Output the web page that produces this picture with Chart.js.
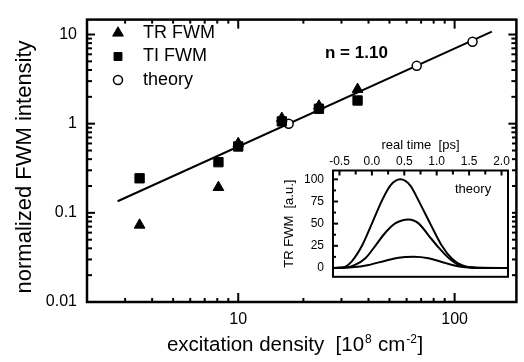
<!DOCTYPE html>
<html><head><meta charset="utf-8">
<script src="https://cdn.jsdelivr.net/npm/chart.js@4.4.0/dist/chart.umd.min.js"></script>
<style>
html,body{margin:0;padding:0;background:#fff;}
#wrap{position:relative;width:524px;height:362px;overflow:hidden;}
#main{position:absolute;left:0;top:0;}
#inset{position:absolute;left:280px;top:135px;}
</style></head><body>
<div id="wrap">
<canvas id="main" width="524" height="362"></canvas>
<canvas id="inset" width="232" height="158"></canvas>
</div>
<script>
// ---------- main panel data ----------
const trDensity = [3.5, 8.1, 10.0, 15.9, 23.6, 35.6];
const trIntensity = [0.073, 0.193, 0.60, 1.15, 1.58, 2.43];
const tiDensity = [3.5, 8.1, 10.0, 15.9, 23.6, 35.6];
const tiIntensity = [0.244, 0.37, 0.555, 1.06, 1.47, 1.82];
const theoryDensity = [17.1, 66.8, 121];
const theoryIntensity = [1.0, 4.45, 8.3];
const fitDensity = [2.77, 148.6];
const fitIntensity = [0.135, 10.8];
const fitLabel = 'n = 1.10';
const xTickValues = [2,3,4,5,6,7,8,9,10,20,30,40,50,60,70,80,90,100];
const xMajorLabels = [10, 100];
const yTickValues = [0.01,0.02,0.03,0.04,0.05,0.06,0.07,0.08,0.09,0.1,0.2,0.3,0.4,0.5,0.6,0.7,0.8,0.9,1,2,3,4,5,6,7,8,9,10];
const yMajorLabels = [0.01, 0.1, 1, 10];

// ---------- inset data ----------
const insetTime1 = [-0.6, -0.45, -0.31, -0.155, 0.0, 0.155, 0.284, 0.44, 0.593, 0.72, 0.90, 1.08, 1.24, 1.39, 1.6, 2.1];
const insetCurve1 = [0, 0.5, 7.5, 24.7, 50, 76, 93, 100, 93, 76, 50, 25, 10, 3, 0.3, 0];
const insetTime2 = [-0.6, -0.4, -0.26, -0.10, 0.05, 0.21, 0.36, 0.567, 0.72, 0.876, 1.03, 1.19, 1.34, 1.55, 2.1];
const insetCurve2 = [0, 0.5, 3.4, 10.9, 24.7, 40, 50.3, 54.8, 50.3, 36.6, 23, 10.9, 3.4, 0.5, 0];
const insetTime3 = [-0.6, -0.31, -0.05, 0.21, 0.41, 0.645, 0.876, 1.08, 1.24, 1.44, 1.65, 2.1];
const insetCurve3 = [0, 0.7, 3.4, 8.2, 11.6, 12.6, 10.9, 6.8, 3.4, 0.7, 0, 0];
const insetXTicks = [-0.5,-0.25,0,0.25,0.5,0.75,1.0,1.25,1.5,1.75,2.0];
const insetYTicks = [0,12.5,25,37.5,50,62.5,75,87.5,100];
const insetLabel = 'theory';

const FONT = "'Liberation Sans', Arial, Helvetica, sans-serif";
Chart.defaults.font.family = FONT;
Chart.defaults.color = '#000';

const zip = (xs, ys) => xs.map((x, i) => ({x: x, y: ys[i]}));
const isIn = (v, arr) => arr.some(m => Math.abs(v - m) <= Math.abs(m) * 1e-9);

function drawSymbol(ctx, style, r, x, y, fill) {
  ctx.beginPath();
  if (style === 'triangle') {
    let rad = 0;
    ctx.moveTo(x + Math.sin(rad) * r, y - Math.cos(rad) * r);
    rad += 2 * Math.PI / 3;
    ctx.lineTo(x + Math.sin(rad) * r, y - Math.cos(rad) * r);
    rad += 2 * Math.PI / 3;
    ctx.lineTo(x + Math.sin(rad) * r, y - Math.cos(rad) * r);
    ctx.closePath();
  } else if (style === 'rect') {
    const s = Math.SQRT1_2 * r;
    ctx.rect(x - s, y - s, 2 * s, 2 * s);
  } else {
    ctx.arc(x, y, r, 0, Math.PI * 2);
  }
  ctx.fillStyle = fill;
  ctx.fill();
  ctx.stroke();
}

function line(ctx, x1, y1, x2, y2) {
  ctx.beginPath(); ctx.moveTo(x1, y1); ctx.lineTo(x2, y2); ctx.stroke();
}

const mainDecor = {
  id: 'mainDecor',
  afterDatasetsDraw(chart) {
    const {ctx, chartArea: {left, right, top, bottom}, scales: {x, y}} = chart;
    ctx.save();
    ctx.strokeStyle = '#000';
    ctx.lineWidth = 2.5;
    ctx.strokeRect(left, top, right - left, bottom - top);
    ctx.lineWidth = 2;
    x.ticks.forEach(t => {
      const px = x.getPixelForValue(t.value);
      if (px <= left + 2 || px >= right - 2) return;
      const len = isIn(t.value, xMajorLabels) ? 9 : 4;
      line(ctx, px, bottom, px, bottom - len);
      line(ctx, px, top, px, top + len);
    });
    y.ticks.forEach(t => {
      const py = y.getPixelForValue(t.value);
      if (py <= top + 2 || py >= bottom - 2) return;
      const len = isIn(t.value, yMajorLabels) ? 8 : 5;
      line(ctx, left, py, left + len, py);
      line(ctx, right, py, right - len, py);
    });
    // legend
    ctx.lineWidth = 1;
    ctx.font = "18px " + FONT;
    ctx.textBaseline = 'middle';
    ctx.textAlign = 'left';
    const legendSets = chart.data.datasets.filter(d => d.inLegend);
    legendSets.forEach((d, i) => {
      const cy = 33 + i * 23.5;
      ctx.strokeStyle = '#000';
      ctx.lineWidth = d.borderWidth;
      drawSymbol(ctx, d.pointStyle, d.legendRadius, 118, cy, d.backgroundColor);
      ctx.fillStyle = '#000';
      ctx.fillText(d.label, 143, cy);
    });
    // slope annotation
    ctx.font = "bold 17px " + FONT;
    ctx.textBaseline = 'alphabetic';
    ctx.fillText(fitLabel, 325, 58);
    // x title with superscripts
    const pieces = [
      {t: 'excitation density  [10', s: false},
      {t: '8', s: true},
      {t: ' cm', s: false},
      {t: '-2', s: true},
      {t: ']', s: false}
    ];
    const big = "20.5px " + FONT, small = "12px " + FONT;
    let total = 0;
    pieces.forEach(p => { ctx.font = p.s ? small : big; p.w = ctx.measureText(p.t).width + (p.s ? 1.5 : 0); total += p.w; });
    let cx = 295 - total / 2;
    pieces.forEach(p => {
      ctx.font = p.s ? small : big;
      ctx.fillText(p.t, cx + (p.s ? 1 : 0), p.s ? 343 : 351);
      cx += p.w;
    });
    ctx.restore();
  }
};

new Chart(document.getElementById('main'), {
  type: 'scatter',
  data: {
    datasets: [
      {label: 'TR FWM', inLegend: true, data: zip(trDensity, trIntensity), pointStyle: 'triangle',
       pointRadius: 6.2, legendRadius: 6.2, backgroundColor: '#000', borderColor: '#000', borderWidth: 1},
      {label: 'TI FWM', inLegend: true, data: zip(tiDensity, tiIntensity), pointStyle: 'rect',
       pointRadius: 6.6, legendRadius: 5.6, backgroundColor: '#000', borderColor: '#000', borderWidth: 1},
      {label: 'theory', inLegend: true, data: zip(theoryDensity, theoryIntensity), pointStyle: 'circle',
       pointRadius: 4.5, legendRadius: 4.5, backgroundColor: '#fff', borderColor: '#000', borderWidth: 1.5},
      {label: 'fit', data: zip(fitDensity, fitIntensity), showLine: true, pointRadius: 0,
       borderColor: '#000', borderWidth: 2, fill: false}
    ]
  },
  options: {
    responsive: false, animation: false, devicePixelRatio: 1,
    layout: {padding: {top: 9, right: 1, left: 0, bottom: 0}},
    plugins: {legend: {display: false}, tooltip: {enabled: false}},
    scales: {
      x: {
        type: 'logarithmic', position: 'bottom', min: 2, max: 193,
        grid: {display: false, drawTicks: false}, border: {display: false},
        ticks: {font: {size: 16}, color: '#000', padding: 8, maxRotation: 0, autoSkip: false,
                callback: v => isIn(v, xMajorLabels) ? String(v) : ''},
        afterBuildTicks: s => { s.ticks = xTickValues.map(v => ({value: v})); },
        afterFit: s => { s.height = 60; }
      },
      y: {
        type: 'logarithmic', position: 'left', min: 0.01, max: 14.7,
        grid: {display: false, drawTicks: false}, border: {display: false},
        ticks: {font: {size: 16}, color: '#000', padding: 10, autoSkip: false,
                callback: v => isIn(v, yMajorLabels) ? String(v) : ''},
        title: {display: true, text: 'normalized FWM intensity  ', font: {size: 22}, color: '#000',
                padding: {top: 12, bottom: 0}},
        afterBuildTicks: s => { s.ticks = yTickValues.map(v => ({value: v})); },
        afterFit: s => { s.width = 87; }
      }
    }
  },
  plugins: [mainDecor]
});

// ---------- inset ----------
const insetDecor = {
  id: 'insetDecor',
  beforeDraw(chart) {
    const {ctx, width, height} = chart;
    ctx.save(); ctx.fillStyle = '#fff'; ctx.fillRect(0, 0, width, height); ctx.restore();
  },
  afterDatasetsDraw(chart) {
    const {ctx, chartArea: {left, right, top, bottom}, scales: {x, y}} = chart;
    ctx.save();
    ctx.strokeStyle = '#000';
    ctx.lineWidth = 2;
    ctx.strokeRect(left, top, right - left, bottom - top);
    x.ticks.forEach(t => {
      const px = x.getPixelForValue(t.value);
      const len = t.label ? 5 : 4;
      line(ctx, px, top, px, top + len);
    });
    y.ticks.forEach(t => {
      const py = y.getPixelForValue(t.value);
      const len = t.label ? 5 : 3;
      line(ctx, left, py, left + len, py);
    });
    ctx.fillStyle = '#000';
    ctx.font = "13px " + FONT;
    ctx.textBaseline = 'alphabetic';
    ctx.fillText(insetLabel, 175, 58);
    ctx.restore();
  }
};

const curveStyle = {showLine: true, pointRadius: 0, borderColor: '#000', borderWidth: 2,
                    cubicInterpolationMode: 'monotone', fill: false};
new Chart(document.getElementById('inset'), {
  type: 'scatter',
  data: {
    datasets: [
      Object.assign({label: 'curve 1', data: zip(insetTime1, insetCurve1)}, curveStyle),
      Object.assign({label: 'curve 2', data: zip(insetTime2, insetCurve2)}, curveStyle),
      Object.assign({label: 'curve 3', data: zip(insetTime3, insetCurve3)}, curveStyle)
    ]
  },
  options: {
    responsive: false, animation: false, devicePixelRatio: 1,
    layout: {padding: {top: 0, right: 4, left: 0, bottom: 5.5}},
    plugins: {legend: {display: false}, tooltip: {enabled: false}},
    scales: {
      x: {
        type: 'linear', position: 'top', min: -0.6, max: 2.1,
        grid: {display: false, drawTicks: false}, border: {display: false},
        ticks: {font: {size: 12}, color: '#000', padding: 2, maxRotation: 0, autoSkip: false,
                callback: v => Math.abs(v * 2 - Math.round(v * 2)) < 1e-9 ? v.toFixed(1) : ''},
        title: {display: true, text: 'real time  [ps]', font: {size: 13}, color: '#000', padding: {top: 3, bottom: 0}},
        afterBuildTicks: s => { s.ticks = insetXTicks.map(v => ({value: v})); },
        afterFit: s => { s.height = 35.5; }
      },
      y: {
        type: 'linear', position: 'left', min: -10, max: 110,
        grid: {display: false, drawTicks: false}, border: {display: false},
        ticks: {font: {size: 12}, color: '#000', padding: 9, autoSkip: false,
                callback: v => (v % 25 === 0) ? String(v) : ''},
        title: {display: true, text: 'TR FWM  [a.u.]', font: {size: 13}, color: '#000', padding: {top: 2, bottom: 0}},
        afterBuildTicks: s => { s.ticks = insetYTicks.map(v => ({value: v})); },
        afterFit: s => { s.width = 53; }
      }
    }
  },
  plugins: [insetDecor]
});
</script>
</body></html>
